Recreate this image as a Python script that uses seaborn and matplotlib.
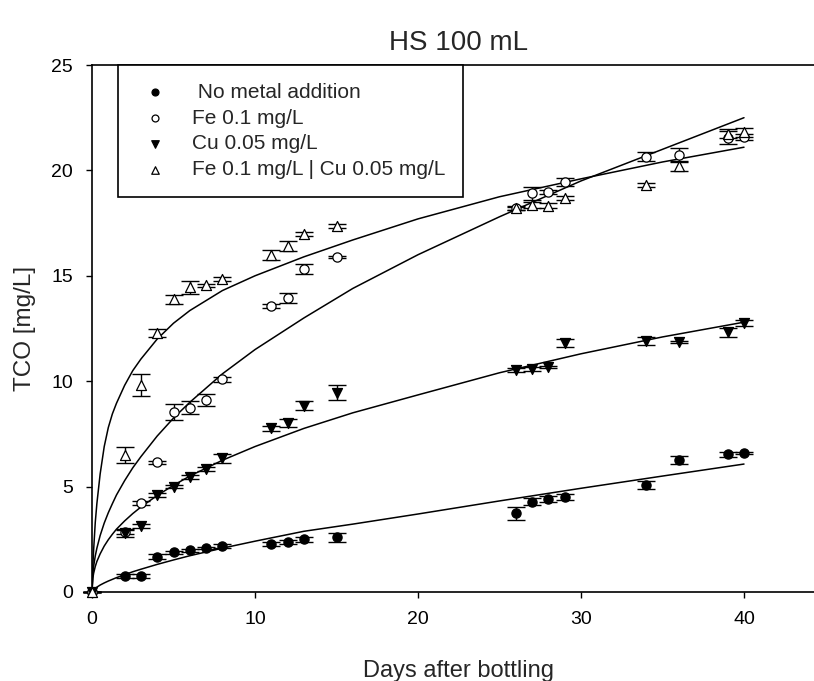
import matplotlib
matplotlib.use("Agg")
import matplotlib.pyplot as plt
import seaborn as sns

sns.set_style("ticks")
plt.rcParams["font.family"] = ["Liberation Sans", "DejaVu Sans"]

# sampling days (same for all treatments)
DAYS = [0, 2, 3, 4, 5, 6, 7, 8, 11, 12, 13, 15, 26, 27, 28, 29, 34, 36, 39, 40]

NO_METAL = [0, 0.77, 0.77, 1.68, 1.88, 1.98, 2.07, 2.17, 2.28, 2.39, 2.50, 2.59,
            3.73, 4.28, 4.41, 4.49, 5.08, 6.26, 6.53, 6.58]
NO_METAL_ERR = [0, 0.1, 0.1, 0.12, 0.08, 0.08, 0.05, 0.1, 0.08, 0.1, 0.12, 0.22,
                0.32, 0.16, 0.14, 0.14, 0.2, 0.18, 0.12, 0.05]

FE = [0, 2.85, 4.21, 6.15, 8.55, 8.74, 9.10, 10.09, 13.58, 13.96, 15.31, 15.91,
      18.20, 18.91, 18.96, 19.44, 20.65, 20.73, 21.55, 21.60]
FE_ERR = [0, 0.1, 0.1, 0.08, 0.37, 0.3, 0.3, 0.12, 0.1, 0.23, 0.24, 0.05,
          0.08, 0.3, 0.1, 0.2, 0.2, 0.33, 0.3, 0.15]

CU = [0, 2.81, 3.13, 4.60, 5.00, 5.47, 5.82, 6.34, 7.76, 8.03, 8.84, 9.46,
      10.53, 10.58, 10.69, 11.80, 11.92, 11.88, 12.32, 12.75]
CU_ERR = [0, 0.2, 0.1, 0.1, 0.08, 0.1, 0.1, 0.2, 0.1, 0.2, 0.2, 0.34,
          0.08, 0.08, 0.05, 0.2, 0.2, 0.05, 0.2, 0.15]

FE_CU = [0, 6.50, 9.82, 12.30, 13.89, 14.45, 14.55, 14.85, 15.99, 16.43, 16.98, 17.38,
         18.23, 18.36, 18.33, 18.68, 19.31, 20.21, 21.75, 21.80]
FE_CU_ERR = [0, 0.36, 0.51, 0.2, 0.22, 0.32, 0.08, 0.1, 0.24, 0.24, 0.1, 0.1,
             0.1, 0.15, 0.1, 0.1, 0.1, 0.25, 0.2, 0.2]

# fitted curves
CURVE_DAYS = [0, 0.05, 0.1, 0.2, 0.3, 0.5, 0.75, 1, 1.25, 1.5, 2, 2.5, 3, 4, 5, 6,
              8, 10, 13, 16, 20, 25, 30, 35, 40]
FIT_NO_METAL = [0, 0.07, 0.11, 0.18, 0.23, 0.33, 0.43, 0.52, 0.60, 0.68, 0.82, 0.96,
                1.08, 1.31, 1.52, 1.72, 2.08, 2.41, 2.88, 3.22, 3.70, 4.32, 4.92,
                5.50, 6.07]
FIT_FE = [0, 0.87, 1.22, 1.71, 2.08, 2.68, 3.27, 3.76, 4.19, 4.60, 5.28, 5.89,
          6.42, 7.40, 8.25, 9.0, 10.35, 11.5, 13.0, 14.4, 16.0, 17.8, 19.5,
          21.0, 22.5]
FIT_CU = [0, 0.65, 0.89, 1.21, 1.45, 1.81, 2.18, 2.48, 2.74, 2.98, 3.37, 3.72,
          4.03, 4.58, 5.06, 5.5, 6.25, 6.9, 7.76, 8.5, 9.35, 10.4, 11.3,
          12.1, 12.8]
FIT_FE_CU = [0, 1.2, 2.0, 3.3, 4.2, 5.6, 6.9, 7.8, 8.45, 8.95, 9.8, 10.5,
             11.05, 12.0, 12.75, 13.35, 14.3, 15.0, 15.9, 16.7, 17.7, 18.75, 19.6,
             20.4, 21.1]

LABELS = [" No metal addition", "Fe 0.1 mg/L", "Cu 0.05 mg/L", "Fe 0.1 mg/L | Cu 0.05 mg/L"]


def main():
    fig = plt.figure(figsize=(8.14, 6.81), dpi=100)
    ax = fig.add_axes([92 / 814, 89 / 681, 733.5 / 814, 527 / 681])

    for fit in (FIT_NO_METAL, FIT_FE, FIT_CU, FIT_FE_CU):
        sns.lineplot(x=CURVE_DAYS, y=fit, color="black", linewidth=1.1,
                     estimator=None, sort=False, ax=ax, zorder=2)

    series = [
        (NO_METAL, NO_METAL_ERR, "o", "black", 44),
        (FE, FE_ERR, "o", "white", 44),
        (CU, CU_ERR, "v", "black", 52),
        (FE_CU, FE_CU_ERR, "^", "white", 52),
    ]
    handles = []
    for (vals, err, marker, face, size), label in zip(series, LABELS):
        ax.errorbar(DAYS, vals, yerr=err, fmt="none", ecolor="black",
                    elinewidth=1.0, capsize=6.5, capthick=1.0, zorder=3, clip_on=False)
        sns.scatterplot(x=DAYS, y=vals, marker=marker, s=size, color=face,
                        edgecolor="black", linewidth=0.9, ax=ax, zorder=4,
                        clip_on=False, label=label)
        handles.append(ax.collections[-1])

    ax.set_xlim(0, 45)
    ax.set_ylim(0, 25)
    ax.set_xticks([0, 10, 20, 30, 40])
    ax.set_yticks([0, 5, 10, 15, 20, 25])

    for side in ("left", "bottom", "top"):
        ax.spines[side].set_linewidth(1.2)
        ax.spines[side].set_color("black")
    ax.spines["right"].set_visible(False)
    ax.tick_params(direction="out", length=4.5, width=1, labelsize=14, pad=9,
                   colors="black")

    ax.set_xlabel("Days after bottling", fontsize=17, labelpad=23)
    ax.set_ylabel("TCO [mg/L]", fontsize=17.5, labelpad=11)
    ax.set_title("HS 100 mL", fontsize=20, pad=11)

    leg = ax.legend(handles=handles, labels=LABELS, loc="upper left",
                    bbox_to_anchor=(26 / 733.5, 1.0), borderaxespad=0,
                    fontsize=15, markerscale=0.75, frameon=True, fancybox=False,
                    framealpha=1, edgecolor="black", borderpad=0.85,
                    handlelength=1.85, handletextpad=0.86, labelspacing=0.33)
    leg.get_frame().set_linewidth(1.2)

    fig.savefig("out.png", dpi=100)
    plt.close(fig)


if __name__ == "__main__":
    main()
